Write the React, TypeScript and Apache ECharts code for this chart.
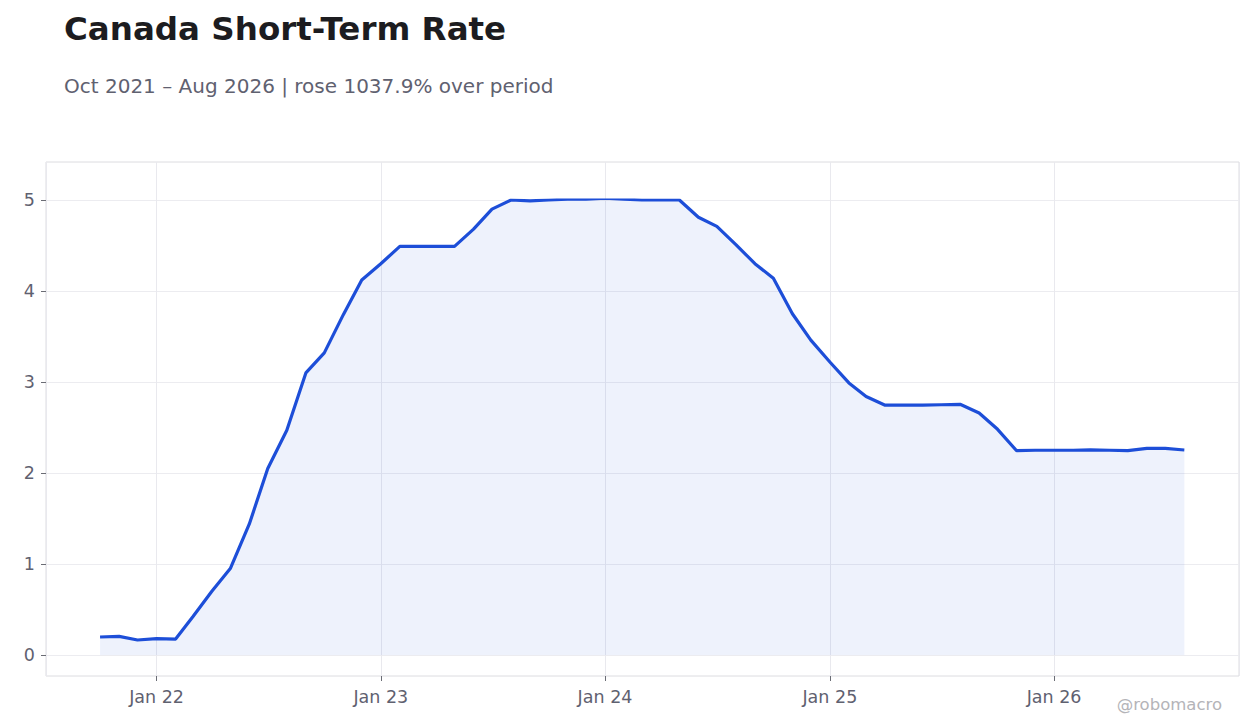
import React, { useEffect, useRef } from 'react';
import * as echarts from 'echarts';

// monthly short-term rate, Oct 2021 .. Aug 2026 (%)
const startYear = 2021;
const startMonth = 9; // October (0-based)
const rates = [
  0.198, 0.205, 0.165, 0.18, 0.175, 0.42, 0.70, 0.95, 1.44, 2.05, 2.47, 3.10,
  3.32, 3.74, 4.12, 4.30, 4.49, 4.49, 4.49, 4.49, 4.68, 4.90, 5.00, 4.99,
  5.00, 5.01, 5.01, 5.02, 5.01, 5.00, 5.00, 5.00, 4.81, 4.71, 4.51, 4.30,
  4.14, 3.75, 3.46, 3.22, 2.99, 2.84, 2.745, 2.745, 2.745, 2.75, 2.755, 2.66,
  2.48, 2.245, 2.25, 2.25, 2.25, 2.255, 2.25, 2.245, 2.27, 2.27, 2.253,
];
const yTicks = [0, 1, 2, 3, 4, 5];

const title = 'Canada Short-Term Rate';
const subtitle = 'Oct 2021 – Aug 2026 | rose 1037.9% over period';
const credit = '@robomacro';

const FONT = '"DejaVu Sans", sans-serif';
const DAY = 24 * 3600 * 1000;

const points = rates.map((v, i) => [new Date(startYear, startMonth + i, 1).getTime(), v]);
const xMin = new Date(2021, 6, 5).getTime();
const xMax = new Date(2026, 9, 29).getTime();

export default function App() {
  const ref = useRef<HTMLDivElement>(null);

  useEffect(() => {
    if (!ref.current) return;
    const chart = echarts.init(ref.current, null, { renderer: 'svg' });

    const timeAxis = {
      type: 'time',
      min: xMin,
      max: xMax,
      minInterval: 365 * DAY,
      maxInterval: 366 * DAY,
    };

    chart.setOption({
      animation: false,
      backgroundColor: '#ffffff',
      textStyle: { fontFamily: FONT },
      title: [
        {
          text: title,
          left: 59,
          top: 7,
          textStyle: { fontFamily: FONT, fontSize: 32.5, fontWeight: 'bold', color: '#1c1c20' },
        },
        {
          text: subtitle,
          left: 59,
          top: 71,
          textStyle: { fontFamily: FONT, fontSize: 20, fontWeight: 'normal', color: '#5f6170' },
        },
      ],
      grid: [
        { left: 46, right: 21, top: 162, bottom: 52, show: true, borderColor: '#dcdce0', borderWidth: 1, backgroundColor: 'transparent' },
        { left: 46, right: 21, top: 200, bottom: 73 },
      ],
      xAxis: [
        {
          ...timeAxis,
          gridIndex: 0,
          axisLine: { show: false },
          axisTick: { show: true, length: 5, lineStyle: { color: '#6a6c74' } },
          axisLabel: {
            margin: 12,
            fontSize: 17.5,
            color: '#5f6170',
            fontFamily: FONT,
            formatter: (v: number) => 'Jan ' + String(new Date(v).getFullYear()).slice(2),
          },
          splitLine: { show: true, lineStyle: { color: '#e9e9ee', width: 1 } },
        },
        {
          ...timeAxis,
          gridIndex: 1,
          show: false,
          splitLine: { show: false },
        },
      ],
      yAxis: [
        { type: 'value', gridIndex: 0, min: 0, max: 1, show: false, splitLine: { show: false } },
        {
          type: 'value',
          gridIndex: 1,
          min: yTicks[0],
          max: yTicks[yTicks.length - 1],
          interval: 1,
          axisLine: { show: false },
          axisTick: { show: true, length: 5, lineStyle: { color: '#6a6c74' } },
          axisLabel: { margin: 11, fontSize: 17.5, color: '#5f6170', fontFamily: FONT },
          splitLine: { show: true, lineStyle: { color: '#ececf0', width: 1 } },
        },
      ],
      series: [
        {
          type: 'line',
          xAxisIndex: 1,
          yAxisIndex: 1,
          data: points,
          showSymbol: false,
          symbol: 'none',
          lineStyle: { color: '#1d4ed8', width: 3.2 },
          areaStyle: { color: 'rgba(29, 78, 216, 0.105)', origin: 0 },
          z: 3,
        },
      ],
      graphic: [
        {
          type: 'text',
          right: 38,
          top: 696,
          style: { text: credit, fontFamily: FONT, fontSize: 16.5, fill: '#b4b4b8' },
        },
      ],
    });

    return () => chart.dispose();
  }, []);

  return (
    <div
      ref={ref}
      style={{ position: 'fixed', left: 0, top: 0, width: 1260, height: 728 }}
    />
  );
}
